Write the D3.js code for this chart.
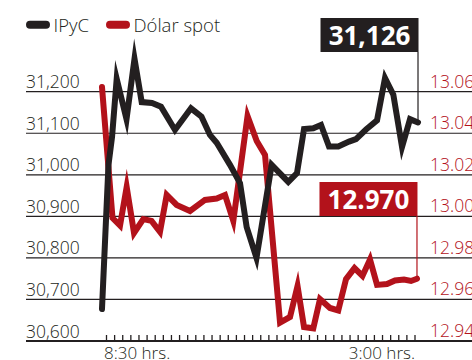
<!DOCTYPE html>
<html>
<head>
<meta charset="utf-8">
<script src="https://cdnjs.cloudflare.com/ajax/libs/d3/7.8.5/d3.min.js"></script>
<style>
  html, body { margin: 0; padding: 0; background: #fff; }
  svg { display: block; }
  text { font-family: "Open Sans", "Noto Sans", sans-serif; }
</style>
</head>
<body>
<script>
// Intraday session: minutes after the 8:30 open
const ipycTimes = [-5.7, 2.5, 7.0, 12.9, 25.3, 35.4, 44.5, 57.5, 68.9, 86.6, 106.8, 120.1, 130.8, 139.3,
  156.1, 168.8, 177.2, 189.6, 208.8, 229.8, 240.8, 249.7, 261.4, 271.2, 281.3, 293.0, 306.6, 315.4,
  328.1, 342.0, 352.1, 362.6, 373.6, 383.7, 393.8];
const ipycValues = [30677, 31024, 31091, 31231, 31134, 31279, 31175, 31173, 31164, 31108, 31160, 31140, 31096, 31077,
  31024, 30980, 30874, 30800, 31024, 30983, 31004, 31110, 31112, 31120, 31068, 31068, 31080, 31086,
  31109, 31131, 31233, 31193, 31067, 31134, 31126];

const usdTimes = [-5.7, 7.6, 17.1, 25.5, 34.8, 46.5, 56.9, 67.6, 76.1, 88.7, 105.6, 124.5, 139.3, 149.8,
  160.3, 178.3, 189.9, 200.4, 219.4, 232.0, 241.5, 249.7, 261.4, 269.9, 282.5, 293.0, 302.8, 313.5,
  323.6, 333.1, 342.0, 354.6, 364.7, 376.1, 385.0, 392.5];
const usdValues = [13.0623, 12.9992, 12.9956, 13.0141, 12.9920, 12.9987, 12.9978, 12.9925, 13.0103, 13.0055, 13.0026, 13.0079, 13.0086, 13.0103,
  12.9978, 13.0483, 13.0363, 13.0295, 12.9489, 12.9516, 12.9665, 12.9467, 12.9461, 12.9602, 12.9559, 12.9547, 12.9698, 12.9751,
  12.9713, 12.9792, 12.9670, 12.9674, 12.9691, 12.9696, 12.9689, 12.9700];

const leftTicks = [30600, 30700, 30800, 30900, 31000, 31100, 31200];
const rightTicks = [12.94, 12.96, 12.98, 13.00, 13.02, 13.04, 13.06];
const timeLabels = [{ t: 0, text: "8:30 hrs.", anchor: "start" }, { t: 390, text: "3:00 hrs.", anchor: "end" }];
const tickMinutes = d3.range(39).map(i => i * 390 / 38);
const seriesNames = ["IPyC", "Dólar spot"];
const lastLabels = ["31,126", "12.970"];

const W = 472, H = 360;
const INK = "#231f20", RED = "#b3121b";

const svg = d3.select("body").append("svg").attr("width", W).attr("height", H);

const x = d3.scaleLinear().domain([0, 390]).range([106.5, 415]);
const yL = d3.scaleLinear().domain([30600, 31200]).range([341, 91.7]);
const yR = d3.scaleLinear().domain([12.94, 13.06]).range([341, 91.7]);

// horizontal grid
svg.append("g").selectAll("line").data(leftTicks.slice(1)).join("line")
  .attr("x1", 26).attr("x2", W)
  .attr("y1", d => yL(d)).attr("y2", d => yL(d))
  .attr("stroke", INK).attr("stroke-width", 1.2);

// baseline and time ticks
svg.append("line").attr("x1", 26).attr("x2", W)
  .attr("y1", yL(30600)).attr("y2", yL(30600))
  .attr("stroke", INK).attr("stroke-width", 2.2);
svg.append("g").selectAll("line").data(tickMinutes).join("line")
  .attr("x1", d => x(d)).attr("x2", d => x(d))
  .attr("y1", yL(30600) - 6).attr("y2", yL(30600))
  .attr("stroke", INK).attr("stroke-width", 1.3);

// axis labels
const fmtL = d3.format(","), fmtR = d3.format(".2f");
svg.append("g").selectAll("text").data(leftTicks).join("text")
  .attr("x", 26).attr("y", d => yL(d) - 3.5)
  .attr("font-size", 17.5).attr("font-weight", 300).attr("fill", INK)
  .text(d => fmtL(d));
svg.append("g").selectAll("text").data(rightTicks).join("text")
  .attr("x", 430).attr("y", d => yR(d) - 4)
  .attr("font-size", 17.5).attr("font-weight", 300).attr("fill", RED)
  .text(d => fmtR(d));
svg.append("g").selectAll("text").data(timeLabels).join("text")
  .attr("x", d => x(d.t) + (d.anchor === "start" ? -2.5 : 0)).attr("y", 358.5)
  .attr("text-anchor", d => d.anchor)
  .attr("font-size", 17).attr("font-weight", 300).attr("fill", INK)
  .text(d => d.text);

// series lines
const ipyc = ipycTimes.map((t, i) => [t, ipycValues[i]]);
const usd = usdTimes.map((t, i) => [t, usdValues[i]]);
const lineL = d3.line().x(d => x(d[0])).y(d => yL(d[1]));
const lineR = d3.line().x(d => x(d[0])).y(d => yR(d[1]));

svg.append("path").attr("d", lineR(usd))
  .attr("fill", "none").attr("stroke", RED).attr("stroke-width", 6)
  .attr("stroke-linecap", "round").attr("stroke-linejoin", "miter").attr("stroke-miterlimit", 10);
svg.append("path").attr("d", lineL(ipyc))
  .attr("fill", "none").attr("stroke", INK).attr("stroke-width", 6)
  .attr("stroke-linecap", "round").attr("stroke-linejoin", "miter").attr("stroke-miterlimit", 10);

// closing value call-outs
function callout(pt, yScale, top, color, label) {
  const px = x(pt[0]), py = yScale(pt[1]);
  const boxW = 98, boxH = 34, right = px + 0.5;
  svg.append("line").attr("x1", px).attr("x2", px)
    .attr("y1", top + boxH).attr("y2", py)
    .attr("stroke", color).attr("stroke-width", 1.2);
  svg.append("rect").attr("x", right - boxW).attr("y", top)
    .attr("width", boxW).attr("height", boxH).attr("fill", color);
  svg.append("text").attr("x", right - boxW / 2).attr("y", top + 26.5)
    .attr("text-anchor", "middle").attr("font-size", 26).attr("font-weight", 700)
    .attr("fill", "#fff").text(label);
}
callout(ipyc[ipyc.length - 1], yL, 18, INK, lastLabels[0]);
callout(usd[usd.length - 1], yR, 182, RED, lastLabels[1]);

// legend
const legend = [{ name: seriesNames[0], color: INK, x: 26 }, { name: seriesNames[1], color: RED, x: 106 }];
const lg = svg.append("g").selectAll("g").data(legend).join("g");
lg.append("line").attr("x1", d => d.x + 4).attr("x2", d => d.x + 20)
  .attr("y1", 24.7).attr("y2", 24.7)
  .attr("stroke", d => d.color).attr("stroke-width", 8).attr("stroke-linecap", "round");
lg.append("text").attr("x", d => d.x + 27.5).attr("y", 31.5)
  .attr("font-size", 18.5).attr("font-weight", 300).attr("fill", INK)
  .text(d => d.name);
</script>
</body>
</html>
